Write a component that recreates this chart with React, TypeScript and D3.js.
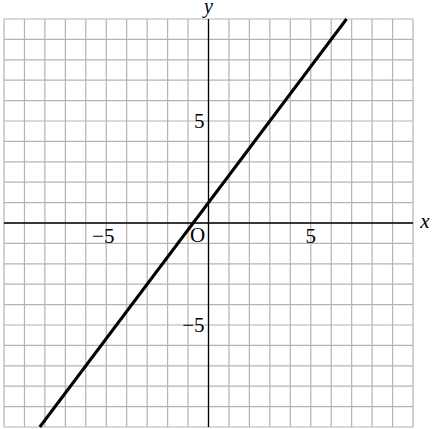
import * as React from 'react';
import {useEffect, useRef} from 'react';
import * as d3 from 'd3';

// grid extent (units)
const xDomain: [number, number] = [-10, 10];
const yDomain: [number, number] = [-10, 10];
const gridValues = d3.range(-10, 11);
const tickValues = [-5, 5];
// line endpoints
const lineX = [-8.25, 6.75];
const lineY = [-10, 10];

const WIDTH = 434;
const HEIGHT = 429;
const FONT = '"Liberation Serif", "Times New Roman", serif';

const App = () => {
  const ref = useRef<SVGSVGElement>(null);

  useEffect(() => {
    const svg = d3.select(ref.current);
    svg.selectAll('*').remove();

    const x = d3.scaleLinear().domain(xDomain).range([4, 413]);
    const y = d3.scaleLinear().domain(yDomain).range([427, 19]);

    const grid = svg.append('g').attr('stroke', '#b3b3b3').attr('stroke-width', 1.2);
    grid.selectAll('line.v')
      .data(gridValues)
      .join('line')
      .attr('class', 'v')
      .attr('x1', d => x(d)).attr('x2', d => x(d))
      .attr('y1', y(yDomain[1])).attr('y2', y(yDomain[0]));
    grid.selectAll('line.h')
      .data(gridValues)
      .join('line')
      .attr('class', 'h')
      .attr('y1', d => y(d)).attr('y2', d => y(d))
      .attr('x1', x(xDomain[0])).attr('x2', x(xDomain[1]));

    // axes
    const axes = svg.append('g').attr('stroke', '#000').attr('stroke-width', 1.3);
    axes.append('line')
      .attr('x1', x(xDomain[0])).attr('x2', x(xDomain[1]))
      .attr('y1', y(0)).attr('y2', y(0));
    axes.append('line')
      .attr('x1', x(0)).attr('x2', x(0))
      .attr('y1', y(yDomain[1])).attr('y2', y(yDomain[0]));

    // the line
    const pts = lineX.map((v, i) => [v, lineY[i]] as [number, number]);
    svg.append('path')
      .datum(pts)
      .attr('fill', 'none')
      .attr('stroke', '#000')
      .attr('stroke-width', 3)
      .attr('d', d3.line<[number, number]>().x(d => x(d[0])).y(d => y(d[1])));

    const text = svg.append('g')
      .style('font-family', FONT)
      .style('font-size', '21px')
      .attr('fill', '#000');

    // x tick labels
    text.selectAll('text.xt')
      .data(tickValues)
      .join('text')
      .attr('class', 'xt')
      .attr('x', d => x(d) - (d < 0 ? 3 : 0))
      .attr('y', y(0) + 20)
      .attr('text-anchor', 'middle')
      .text(d => d < 0 ? `\u2212${Math.abs(d)}` : `${d}`);

    // y tick labels
    text.selectAll('text.yt')
      .data(tickValues)
      .join('text')
      .attr('class', 'yt')
      .attr('x', x(0) - 4)
      .attr('y', d => y(d) + 7)
      .attr('text-anchor', 'end')
      .text(d => d < 0 ? `\u2212${Math.abs(d)}` : `${d}`);

    text.append('text')
      .attr('x', x(0) - 11)
      .attr('y', y(0) + 19)
      .attr('text-anchor', 'middle')
      .text('O');

    text.append('text')
      .attr('x', x(xDomain[1]) + 12)
      .attr('y', y(0) + 5)
      .attr('text-anchor', 'middle')
      .style('font-style', 'italic')
      .text('x');

    text.append('text')
      .attr('x', x(0))
      .attr('y', 13)
      .attr('text-anchor', 'middle')
      .style('font-style', 'italic')
      .style('font-size', '20px')
      .text('y');
  }, []);

  return (
    <svg
      ref={ref}
      width={WIDTH}
      height={HEIGHT}
      style={{position: 'absolute', left: 0, top: 0, background: '#fff'}}
    />
  );
};

export default App;
